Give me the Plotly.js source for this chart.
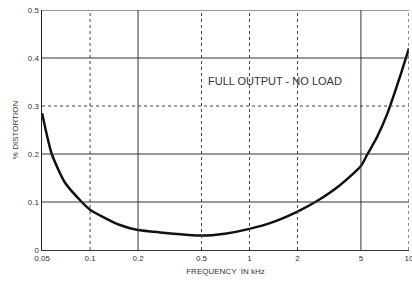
<!DOCTYPE html>
<html><head><meta charset="utf-8">
<script src="https://cdn.plot.ly/plotly-3.0.1.min.js"></script>
<style>html,body{margin:0;padding:0;background:#fff}#c{width:412px;height:282px}</style>
</head><body><div id="c"></div>
<script>
const freq = [0.05, 0.0575, 0.0697, 0.0887, 0.1, 0.127, 0.154, 0.196, 0.287, 0.5, 0.7, 1, 1.4, 2, 2.65, 3.69, 5, 5.46, 6.3, 7.28, 8.77, 10];
const distortion = [0.285, 0.20, 0.14, 0.10, 0.084, 0.065, 0.052, 0.042, 0.036, 0.03, 0.034, 0.044, 0.058, 0.08, 0.102, 0.135, 0.175, 0.198, 0.235, 0.282, 0.36, 0.42];
const xTickVals = [0.05, 0.1, 0.2, 0.5, 1, 2, 5, 10];
const xTickText = ['0.05', '0.1', '0.2', '0.5', '1', '2', '5', '10'];
const yTickVals = [0, 0.1, 0.2, 0.3, 0.4, 0.5];
const yTickText = ['0', '0.1', '0.2', '0.3', '0.4', '0.5'];
const xSolid = [0.2, 5];
const xDotted = [0.1, 0.5, 1, 2, 10];
const ySolid = [0.1, 0.2, 0.4, 0.5];
const yDotted = [0.3];

const shapes = [];
xSolid.forEach(v => shapes.push({type:'line', xref:'x', yref:'paper', x0:v, x1:v, y0:0, y1:1, line:{color:'#333', width:1}}));
xDotted.forEach(v => shapes.push({type:'line', xref:'x', yref:'paper', x0:v, x1:v, y0:0, y1:1, line:{color:'#444', width:1, dash:'dot'}}));
ySolid.forEach(v => shapes.push({type:'line', xref:'paper', yref:'y', x0:0, x1:1, y0:v, y1:v, line:{color:'#333', width:1}}));
yDotted.forEach(v => shapes.push({type:'line', xref:'paper', yref:'y', x0:0, x1:1, y0:v, y1:v, line:{color:'#444', width:1, dash:'dot'}}));

const font = {family:'Liberation Sans, Arial, sans-serif', size:8, color:'#333'};
Plotly.newPlot('c', [{
  x: freq, y: distortion, mode:'lines', type:'scatter',
  line:{color:'#111', width:2.5, shape:'spline', smoothing:0.6},
  hoverinfo:'skip'
}], {
  width:412, height:282,
  margin:{l:42, r:3, t:10, b:32},
  paper_bgcolor:'#fff', plot_bgcolor:'#fff',
  showlegend:false,
  font: font,
  xaxis:{type:'log', range:[Math.log10(0.05) - 0.0005, 1.0005], tickvals:xTickVals, ticktext:xTickText,
    ticklabeloverflow:'allow',
    showgrid:false, zeroline:false, showline:true, linecolor:'#333', linewidth:1, mirror:false,
    ticks:'', ticklen:0, tickfont:font,
    title:{text:'FREQUENCY  IN kHz', font:font, standoff:6}},
  yaxis:{range:[0, 0.5], tickvals:yTickVals, ticktext:yTickText,
    showgrid:false, zeroline:false, showline:true, linecolor:'#222', linewidth:1.5,
    ticks:'', tickfont:font,
    title:{text:'% DISTORTION', font:font, standoff:8}},
  shapes: shapes,
  annotations:[{xref:'paper', yref:'y', x:0.634, y:0.353, text:'FULL OUTPUT - NO LOAD', showarrow:false,
    font:{family:'Liberation Sans, Arial, sans-serif', size:11, color:'#333'}}]
}, {staticPlot:true});
</script></body></html>
